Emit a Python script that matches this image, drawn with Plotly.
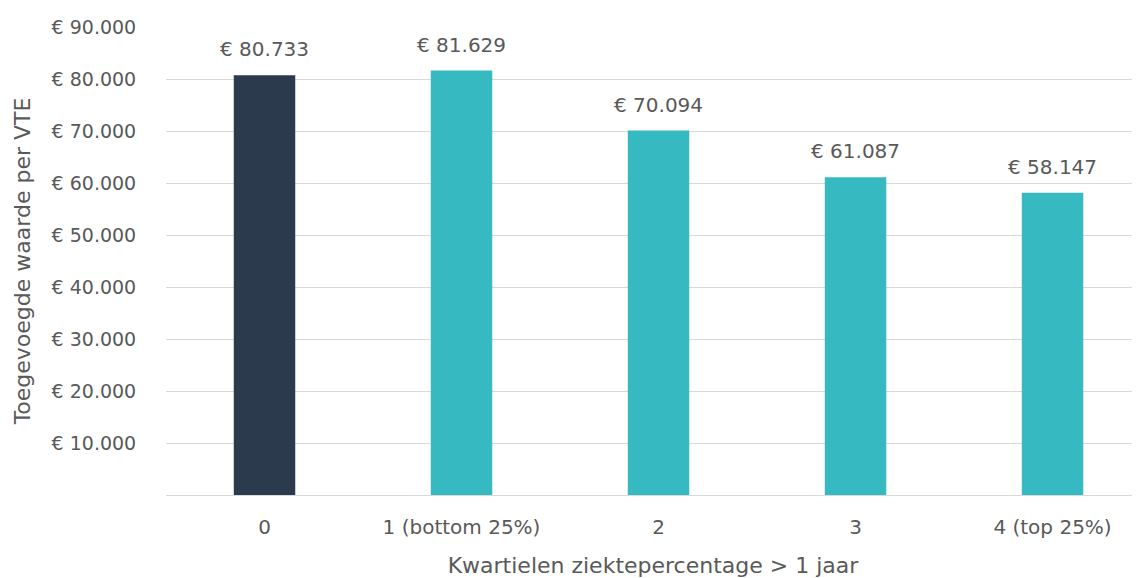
import plotly.graph_objects as go

# Data
categories = ["0", "1 (bottom 25%)", "2", "3", "4 (top 25%)"]
values = [80733, 81629, 70094, 61087, 58147]
bar_colors = ["#2B3A4C", "#37B9C1", "#37B9C1", "#37B9C1", "#37B9C1"]
y_tickvals = [10000, 20000, 30000, 40000, 50000, 60000, 70000, 80000, 90000]
y_ticktext = ["€ 10.000", "€ 20.000", "€ 30.000", "€ 40.000", "€ 50.000",
              "€ 60.000", "€ 70.000", "€ 80.000", "€ 90.000"]

FONT = "DejaVu Sans, sans-serif"
GREY = "#595959"


def euro(v):
    return "€ " + f"{v:,}".replace(",", ".")


fig = go.Figure(go.Bar(
    x=categories,
    y=values,
    marker=dict(color=bar_colors, line=dict(width=0)),
    width=0.312,
    cliponaxis=False,
))

# value labels above the bars
for cat, val in zip(categories, values):
    fig.add_annotation(
        x=cat, y=val, text=euro(val),
        showarrow=False, yanchor="bottom", yshift=12,
        font=dict(family=FONT, size=20, color=GREY),
    )

# page body has an 8px margin, so size the figure to fit the window
fig.update_layout(
    width=1132, height=570,
    margin=dict(l=158, r=0, t=19, b=83),
    plot_bgcolor="white", paper_bgcolor="white",
    showlegend=False,
    font=dict(family=FONT, size=19, color=GREY),
)

fig.update_xaxes(
    range=[-0.5, 4.444],
    automargin=False,
    showgrid=False, zeroline=False,
    showline=True, linecolor="#D9D9D9", linewidth=1,
    ticks="outside", ticklen=14, tickcolor="rgba(0,0,0,0)",
    tickfont=dict(family=FONT, size=20, color=GREY),
    title=dict(text="Kwartielen ziektepercentage > 1 jaar",
               font=dict(family=FONT, size=22, color=GREY), standoff=20),
)

fig.update_yaxes(
    range=[0, 90000],
    automargin=False,
    tickvals=y_tickvals, ticktext=y_ticktext,
    showgrid=True, gridcolor="#D9D9D9", gridwidth=1,
    zeroline=False,
    ticks="outside", ticklen=25, tickcolor="rgba(0,0,0,0)",
    tickfont=dict(family=FONT, size=19, color=GREY),
    title=dict(text="Toegevoegde waarde per VTE",
               font=dict(family=FONT, size=22, color=GREY), standoff=14),
)

fig.write_html("out.html")
